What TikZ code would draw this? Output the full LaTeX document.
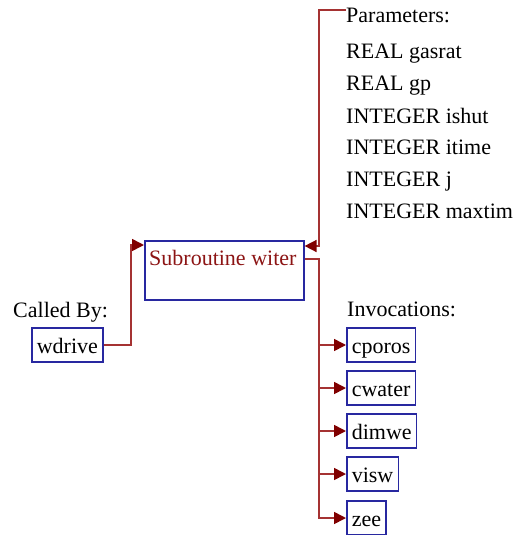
\documentclass[tikz,border=0pt]{standalone}
\usepackage{fontspec}
\setmainfont{Liberation Serif}
\usetikzlibrary{arrows.meta,positioning}
\definecolor{boxblue}{RGB}{40,40,160}
\definecolor{linkred}{RGB}{165,50,50}
\definecolor{tipred}{RGB}{128,0,0}
\definecolor{namered}{RGB}{140,20,20}

\begin{document}
\begin{tikzpicture}[x=1pt,y=-1pt,
  font=\fontsize{22}{26}\selectfont,
  callbox/.style={draw=boxblue,line width=1.6pt,anchor=west,
    inner xsep=5pt,inner ysep=7pt,text height=18pt,text depth=2pt},
  caption/.style={anchor=base west,inner sep=0pt},
  link/.style={draw=linkred,line width=1.6pt},
  calls/.style={link,-{Triangle[length=12pt,width=12pt,color=tipred,fill=tipred]}}]
\useasboundingbox (0,0) rectangle (518,535);

% Subroutine box
\node[draw=boxblue,line width=1.6pt,minimum width=159pt,minimum height=59pt,
  anchor=north west] (witer) at (144,240) {};
\node[caption,namered] (wname) at (149,265) {Subroutine witer};

% Parameters
\node[caption] (params) at (346,23) {Parameters:};
\foreach \y/\p [count=\i] in {59/REAL gasrat,90/REAL gp,123/INTEGER ishut,
    154/INTEGER itime,186/INTEGER j,218/INTEGER maxtim}
  \node[caption] (par\i) at (346,\y) {\p};
\coordinate (ptop) at (319,10);
\draw[calls] (ptop -| params.west) -- (ptop) |- ([yshift=-6pt]witer.north east);

% Called by
\node[caption] (calledby) at (13,317) {Called By:};
\node[callbox] (wdrive) at (31,345) {wdrive};
\coordinate (cbend) at (131,345);
\draw[calls] (wdrive.east) -- (cbend) |- ([yshift=-5pt]witer.north west);

% Invocations
\node[caption] (invoc) at (347,316) {Invocations:};
\node[callbox] (cporos) at (346,345) {cporos};
\node[callbox] (cwater) at (346,388) {cwater};
\node[callbox] (dimwe) at (346,431) {dimwe};
\node[callbox] (visw) at (346,474) {visw};
\node[callbox] (zee) at (346,518) {zee};
\coordinate (trunk) at (319,259);
\draw[calls] ([yshift=-19pt]witer.north east) -- (trunk) |- (zee.west);
\foreach \n in {cporos,cwater,dimwe,visw}
  \draw[calls] (trunk |- \n.west) -- (\n.west);
\end{tikzpicture}
\end{document}
